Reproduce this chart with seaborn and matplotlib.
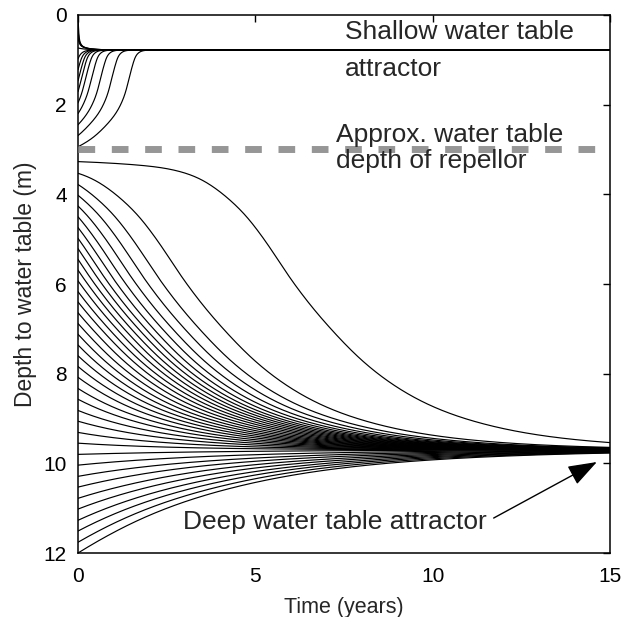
import numpy as np
import pandas as pd
import matplotlib
matplotlib.use("Agg")
import matplotlib.pyplot as plt
import seaborn as sns

# ---------------- data ----------------
# initial water-table depths (m) of the plotted trajectories, by basin
start_above_shallow = [0.0, 0.245, 0.49, 0.735]
start_shallow = [0.98, 1.22, 1.47, 1.71, 1.96, 2.20, 2.45, 2.69, 2.94]
start_deep_down = [3.27, 3.53, 3.78, 4.02, 4.26, 4.50, 4.74, 4.98, 5.21, 5.45,
                   5.69, 5.93, 6.17, 6.40, 6.64, 6.88, 7.12, 7.36, 7.60, 7.84,
                   8.08, 8.33, 8.57, 8.82, 9.06, 9.31, 9.55]
start_deep_up = [9.80, 10.04, 10.29, 10.53, 10.78, 11.02, 11.27, 11.51, 11.76, 12.0]

# rate of change of depth (m / year) against depth, read from the slopes of the
# trajectories in the picture (one table per basin of attraction)
rate_above_depth = [0.0, 0.15, 0.43, 0.615, 0.705, 0.745, 0.78]
rate_above = [22.0, 20.0, 10.0, 2.2, 0.5, 0.15, 0.0]
rate_shallow_depth = [0.78, 0.84, 1.07, 1.48, 1.93, 2.33, 2.65, 2.86, 2.96]
rate_shallow = [0.0, -0.6, -2.6, -3.2, -1.83, -0.97, -0.70, -0.47, -0.40]
rate_down_depth = [3.27, 3.35, 3.47, 3.80, 4.27, 4.80, 5.50, 6.10, 6.75, 7.40,
                   7.85, 8.47, 8.97, 9.27, 9.46, 9.70]
rate_down = [0.03, 0.07, 0.19, 0.52, 0.77, 1.05, 1.20, 1.07, 0.92, 0.80,
             0.66, 0.45, 0.26, 0.155, 0.085, 0.0]
rate_up_depth = [9.70, 10.00, 10.26, 10.64, 10.84, 11.12, 11.49, 11.85, 12.05]
rate_up = [0.0, -0.07, -0.135, -0.22, -0.265, -0.33, -0.41, -0.47, -0.50]

shallow_attractor = 0.78
deep_attractor = 9.70
repellor_depth = 3.0
x_ticks = [0, 5, 10, 15]
y_ticks = [0, 2, 4, 6, 8, 10, 12]


def pchip(x, y, xi):
    x = np.asarray(x, float)
    y = np.asarray(y, float)
    xi = np.clip(np.asarray(xi, float), x[0], x[-1])
    h = np.diff(x)
    d = np.diff(y) / h
    m = np.zeros_like(y)
    for k in range(1, len(x) - 1):
        if d[k - 1] * d[k] > 0:
            w1 = 2 * h[k] + h[k - 1]
            w2 = h[k] + 2 * h[k - 1]
            m[k] = (w1 + w2) / (w1 / d[k - 1] + w2 / d[k])
    m[0] = d[0]
    m[-1] = d[-1]
    idx = np.clip(np.searchsorted(x, xi) - 1, 0, len(h) - 1)
    s = (xi - x[idx]) / h[idx]
    h00 = 2 * s**3 - 3 * s**2 + 1
    h10 = s**3 - 2 * s**2 + s
    h01 = -2 * s**3 + 3 * s**2
    h11 = s**3 - s**2
    return (h00 * y[idx] + h10 * h[idx] * m[idx] + h01 * y[idx + 1]
            + h11 * h[idx] * m[idx + 1])


def trajectories(starts, rdepth, rate, attractor, t):
    """Time-depth paths that follow the read rate table from each start."""
    far = starts[0] if abs(starts[0] - attractor) > abs(starts[-1] - attractor) else starts[-1]
    eps = 2e-4 * np.sign(far - attractor)
    grid = np.linspace(far, attractor + eps, 60000)
    v = pchip(rdepth, rate, grid)
    inv = 1.0 / v
    T = np.concatenate([[0.0], np.cumsum(0.5 * (inv[1:] + inv[:-1]) * np.diff(grid))])
    out = []
    for d0 in starts:
        t0 = np.interp(d0, grid, T) if grid[-1] > grid[0] else np.interp(-d0, -grid, T)
        out.append(np.interp(t0 + t, T, grid, right=attractor))
    return out


t_plot = np.linspace(0, 15, 1200)
rows = []
cid = 0
for starts, rd, rv, att in [(start_above_shallow, rate_above_depth, rate_above, shallow_attractor),
                            (start_shallow, rate_shallow_depth, rate_shallow, shallow_attractor),
                            (start_deep_down, rate_down_depth, rate_down, deep_attractor),
                            (start_deep_up, rate_up_depth, rate_up, deep_attractor)]:
    for depth in trajectories(starts, rd, rv, att, t_plot):
        rows.extend((cid, tt, dd) for tt, dd in zip(t_plot, depth))
        cid += 1

data = pd.DataFrame(rows, columns=["curve", "time", "depth"])

# ---------------- drawing ----------------
sns.set_style("white")
plt.rcParams["font.family"] = ["Liberation Sans", "DejaVu Sans"]

fig = plt.figure(figsize=(6.31, 6.17), dpi=100)
ax = fig.add_axes([0.1236, 0.1037, 0.8431, 0.872])

sns.lineplot(data=data, x="time", y="depth", units="curve", estimator=None,
             color="black", lw=0.85, sort=False, ax=ax, legend=False)

ax.axhline(repellor_depth, color="#969696", lw=5, dashes=(2.4, 2.4),
           dash_capstyle="butt", zorder=3)

ax.set_xlim(0, 15)
ax.set_ylim(12, 0)
ax.set_xticks(x_ticks)
ax.set_yticks(y_ticks)
ax.tick_params(direction="in", top=True, right=True, length=5, width=1,
               labelsize=15, colors="black")
ax.tick_params(axis="x", pad=10)
ax.tick_params(axis="y", pad=8)
for sp in ax.spines.values():
    sp.set_color("black")
    sp.set_linewidth(1.1)

ax.set_xlabel("Time (years)", fontsize=15.5, labelpad=8)
ax.set_ylabel("Depth to water table (m)", fontsize=16.5, labelpad=5)

ax.text(7.53, 0.54, "Shallow water table", fontsize=19, va="baseline", ha="left")
ax.text(7.53, 1.36, "attractor", fontsize=19, va="baseline", ha="left")
ax.text(7.27, 2.83, "Approx. water table", fontsize=19, va="baseline", ha="left")
ax.text(7.27, 3.42, "depth of repellor", fontsize=19, va="baseline", ha="left")
ax.text(2.96, 11.47, "Deep water table attractor", fontsize=19, va="baseline", ha="left")
ax.annotate("", xy=(14.63, 9.97), xytext=(11.72, 11.22),
            arrowprops=dict(arrowstyle="-|>,head_length=0.9,head_width=0.32",
                            mutation_scale=20, lw=1.0, color="black",
                            shrinkA=0, shrinkB=0))

fig.savefig("out.png", dpi=100)
